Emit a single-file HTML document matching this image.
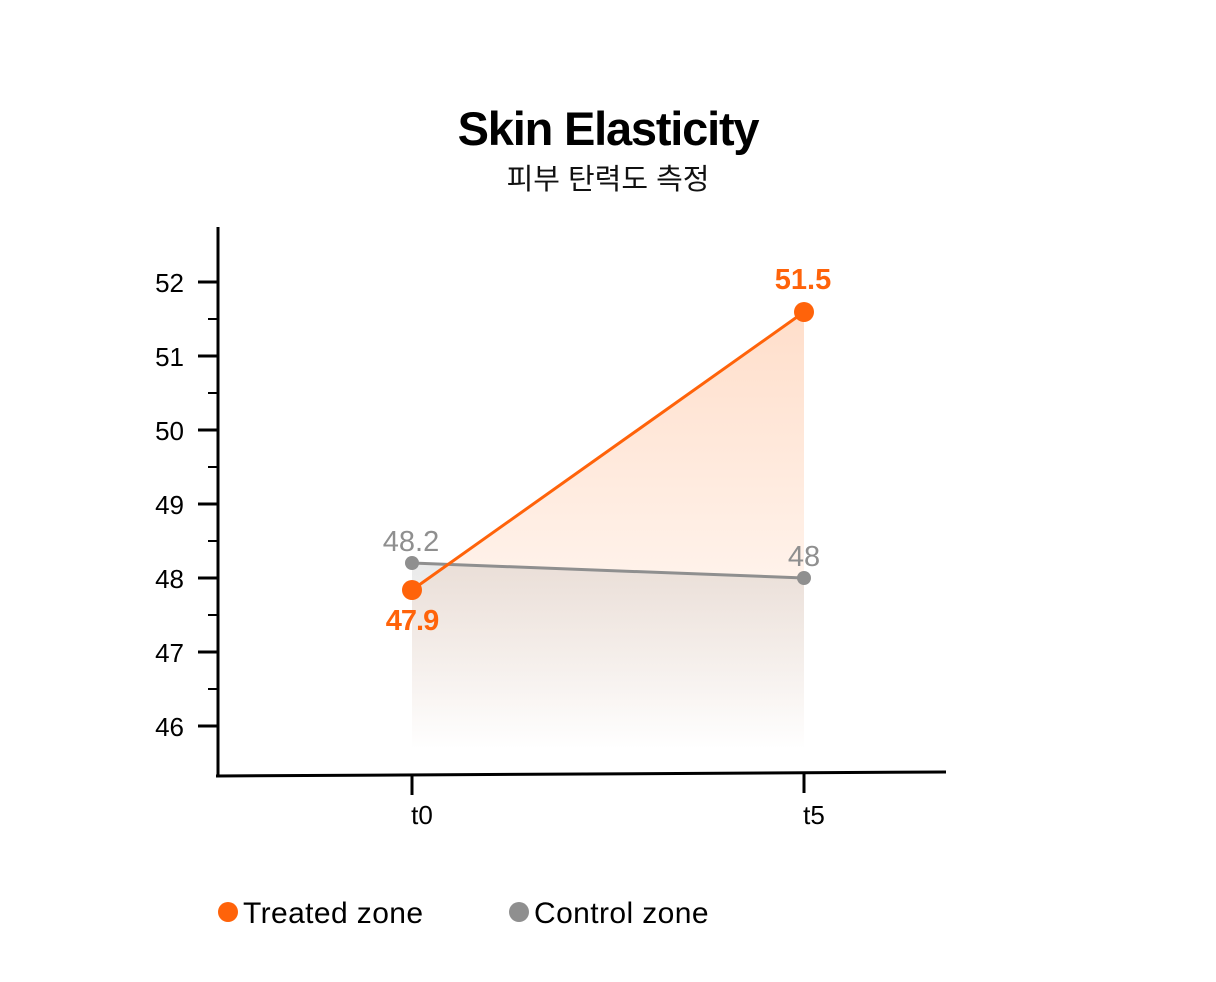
<!DOCTYPE html>
<html><head><meta charset="utf-8"><style>
body{margin:0;background:#fff;}
svg{display:block;font-family:"Liberation Sans","Noto Sans CJK KR",sans-serif;}
</style></head><body>
<svg width="1216" height="982" viewBox="0 0 1216 982" xmlns="http://www.w3.org/2000/svg">
<defs>
<linearGradient id="og" x1="0" y1="312" x2="0" y2="750" gradientUnits="userSpaceOnUse">
<stop offset="0" stop-color="#ff6a10" stop-opacity="0.22"/>
<stop offset="1" stop-color="#ff6a10" stop-opacity="0"/>
</linearGradient>
<linearGradient id="gg" x1="0" y1="563" x2="0" y2="750" gradientUnits="userSpaceOnUse">
<stop offset="0" stop-color="#8a8a8a" stop-opacity="0.18"/>
<stop offset="1" stop-color="#8a8a8a" stop-opacity="0"/>
</linearGradient>
</defs>
<text x="608" y="145" text-anchor="middle" font-size="47" font-weight="bold" letter-spacing="-1.2" fill="#000">Skin Elasticity</text>
<text x="608" y="189" text-anchor="middle" font-size="29" fill="#111">피부 탄력도 측정</text>
<polygon points="412,590 804,312 804,750 412,750" fill="url(#og)"/>
<polygon points="412,563 804,578 804,750 412,750" fill="url(#gg)"/>
<line x1="218" y1="227" x2="218" y2="777" stroke="#000" stroke-width="3"/>
<line x1="216" y1="776" x2="946" y2="772" stroke="#000" stroke-width="3"/>
<g stroke="#000" stroke-width="3">
<line x1="198" y1="282" x2="218" y2="282"/><line x1="198" y1="356" x2="218" y2="356"/>
<line x1="198" y1="430" x2="218" y2="430"/><line x1="198" y1="504" x2="218" y2="504"/>
<line x1="198" y1="578" x2="218" y2="578"/><line x1="198" y1="652" x2="218" y2="652"/>
<line x1="198" y1="726" x2="218" y2="726"/>
<line x1="412" y1="776" x2="412" y2="795"/><line x1="804" y1="774" x2="804" y2="793"/>
</g>
<g stroke="#000" stroke-width="2">
<line x1="208" y1="319" x2="218" y2="319"/><line x1="208" y1="393" x2="218" y2="393"/>
<line x1="208" y1="467" x2="218" y2="467"/><line x1="208" y1="541" x2="218" y2="541"/>
<line x1="208" y1="615" x2="218" y2="615"/><line x1="208" y1="689" x2="218" y2="689"/>
</g>
<g font-size="26" fill="#000" text-anchor="end">
<text x="184" y="292">52</text><text x="184" y="366">51</text><text x="184" y="440">50</text>
<text x="184" y="514">49</text><text x="184" y="588">48</text><text x="184" y="662">47</text><text x="184" y="736">46</text>
</g>
<g font-size="26" fill="#000" text-anchor="middle">
<text x="422" y="824">t0</text><text x="814" y="824">t5</text>
</g>
<line x1="412" y1="563" x2="804" y2="578" stroke="#8f8f8f" stroke-width="3"/>
<circle cx="412" cy="563" r="7" fill="#8f8f8f"/><circle cx="804" cy="578" r="7" fill="#8f8f8f"/>
<line x1="412" y1="590" x2="804" y2="312" stroke="#ff630a" stroke-width="3"/>
<circle cx="412" cy="590" r="10" fill="#ff630a"/><circle cx="804" cy="312" r="10" fill="#ff630a"/>
<g font-size="29" text-anchor="middle">
<text x="411" y="551" fill="#8f8f8f">48.2</text>
<text x="804" y="566" fill="#8f8f8f">48</text>
<text x="412" y="630" fill="#ff630a" font-weight="bold" letter-spacing="-1">47.9</text>
<text x="803" y="289" fill="#ff630a" font-weight="bold">51.5</text>
</g>
<circle cx="228" cy="912" r="10" fill="#ff630a"/>
<text x="243" y="923" font-size="30" fill="#000" letter-spacing="0.4">Treated zone</text>
<circle cx="519" cy="912" r="10" fill="#8f8f8f"/>
<text x="534" y="923" font-size="30" fill="#000" letter-spacing="0.4">Control zone</text>
</svg>
</body></html>
